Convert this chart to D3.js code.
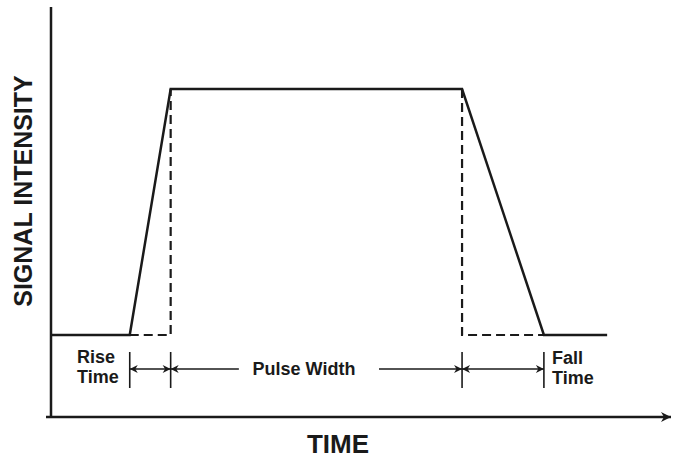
<!DOCTYPE html>
<html>
<head>
<meta charset="utf-8">
<script src="https://cdn.jsdelivr.net/npm/d3@7"></script>
<style>
  body { margin: 0; background: #fff; }
  text { font-family: "Liberation Sans", Arial, sans-serif; font-weight: bold; fill: #1a1a1a; }
</style>
</head>
<body>
<script>
var svgWidth = 674
var svgHeight = 459

// pulse shape, in arbitrary units (time 0..100, intensity 0..1)
var pulseTime = [0, 12.7, 19.3, 66.3, 79.5, 89.7]
var pulseIntensity = [0.2, 0.2, 0.8, 0.8, 0.2, 0.2]

// dashed guides: rise end and fall start dropped to the baseline
var guideLines = [
  { time: [12.7, 19.3, 19.3], intensity: [0.2, 0.2, 0.8] },
  { time: [66.3, 66.3, 79.5], intensity: [0.8, 0.2, 0.2] }
]

// markers under the pulse
var markerTimes = [12.7, 19.3, 66.3, 79.5]
var spanLabels = ['Rise Time', 'Pulse Width', 'Fall Time']
var xAxisLabel = 'TIME'
var yAxisLabel = 'SIGNAL INTENSITY'

var svg = d3.select('body')
  .append('svg')
  .attr('width', svgWidth)
  .attr('height', svgHeight)

var x = d3.scaleLinear().domain([0, 100]).range([51, 671])
var y = d3.scaleLinear().domain([0, 1]).range([417, 7])

var ink = '#1a1a1a'

// arrow heads
var defs = svg.append('defs')
defs.append('marker')
  .attr('id', 'head')
  .attr('viewBox', '0 0 10 10')
  .attr('refX', 10)
  .attr('refY', 5)
  .attr('markerWidth', 9)
  .attr('markerHeight', 8)
  .attr('markerUnits', 'userSpaceOnUse')
  .attr('orient', 'auto-start-reverse')
  .append('path')
  .attr('d', 'M0,0 L10,5 L0,10 L3,5 Z')
  .attr('fill', ink)

defs.append('marker')
  .attr('id', 'axisHead')
  .attr('viewBox', '0 0 10 10')
  .attr('refX', 10)
  .attr('refY', 5)
  .attr('markerWidth', 12)
  .attr('markerHeight', 10)
  .attr('markerUnits', 'userSpaceOnUse')
  .attr('orient', 'auto')
  .append('path')
  .attr('d', 'M0,0 L10,5 L0,10 L3,5 Z')
  .attr('fill', ink)

// axes
var axes = svg.append('g')
axes.append('line')
  .attr('x1', x(0)).attr('y1', y(1))
  .attr('x2', x(0)).attr('y2', y(0) + 1)
  .attr('stroke', ink).attr('stroke-width', 2.5)
axes.append('line')
  .attr('x1', x(0) - 5).attr('y1', y(0))
  .attr('x2', x(100)).attr('y2', y(0))
  .attr('stroke', ink).attr('stroke-width', 2.5)
  .attr('marker-end', 'url(#axisHead)')

// dashed guides
var line = d3.line()
  .x(d => x(d[0]))
  .y(d => y(d[1]))

svg.append('g').selectAll('path')
  .data(guideLines)
  .enter()
  .append('path')
  .attr('d', d => line(d3.zip(d.time, d.intensity)))
  .attr('fill', 'none')
  .attr('stroke', ink)
  .attr('stroke-width', 2.2)
  .attr('stroke-dasharray', '9,5')

// the pulse
svg.append('path')
  .attr('d', line(d3.zip(pulseTime, pulseIntensity)))
  .attr('fill', 'none')
  .attr('stroke', ink)
  .attr('stroke-width', 2.5)
  .attr('stroke-linejoin', 'miter')

// span markers
var markerY = 369
var markers = svg.append('g')
markers.selectAll('line')
  .data(markerTimes)
  .enter()
  .append('line')
  .attr('x1', d => x(d)).attr('y1', 352)
  .attr('x2', d => x(d)).attr('y2', 388)
  .attr('stroke', ink).attr('stroke-width', 1.6)

var spanArrows = [
  { from: markerTimes[0], to: markerTimes[1], start: true, end: true },
  { from: markerTimes[1], to: 30.3, start: true, end: false },
  { from: 52.9, to: markerTimes[2], start: false, end: true },
  { from: markerTimes[2], to: markerTimes[3], start: true, end: true }
]

markers.selectAll('path')
  .data(spanArrows)
  .enter()
  .append('path')
  .attr('d', d => 'M' + x(d.from) + ',' + markerY + 'H' + x(d.to))
  .attr('stroke', ink)
  .attr('stroke-width', 1.3)
  .attr('marker-start', d => d.start ? 'url(#head)' : null)
  .attr('marker-end', d => d.end ? 'url(#head)' : null)

// span labels
var rise = svg.append('text').attr('font-size', 18)
rise.append('tspan').attr('x', 77).attr('y', 363).text(spanLabels[0].split(' ')[0])
rise.append('tspan').attr('x', 77).attr('y', 383).text(spanLabels[0].split(' ')[1])

svg.append('text')
  .attr('x', 304)
  .attr('y', 375)
  .attr('text-anchor', 'middle')
  .attr('font-size', 18)
  .text(spanLabels[1])

var fall = svg.append('text').attr('font-size', 18)
fall.append('tspan').attr('x', 552).attr('y', 364).text(spanLabels[2].split(' ')[0])
fall.append('tspan').attr('x', 552).attr('y', 384).text(spanLabels[2].split(' ')[1])

// axis titles
svg.append('text')
  .attr('x', 338)
  .attr('y', 453)
  .attr('text-anchor', 'middle')
  .attr('font-size', 26)
  .text(xAxisLabel)

svg.append('text')
  .attr('transform', 'translate(32,191) rotate(-90)')
  .attr('text-anchor', 'middle')
  .attr('font-size', 25)
  .text(yAxisLabel)
</script>
</body>
</html>
